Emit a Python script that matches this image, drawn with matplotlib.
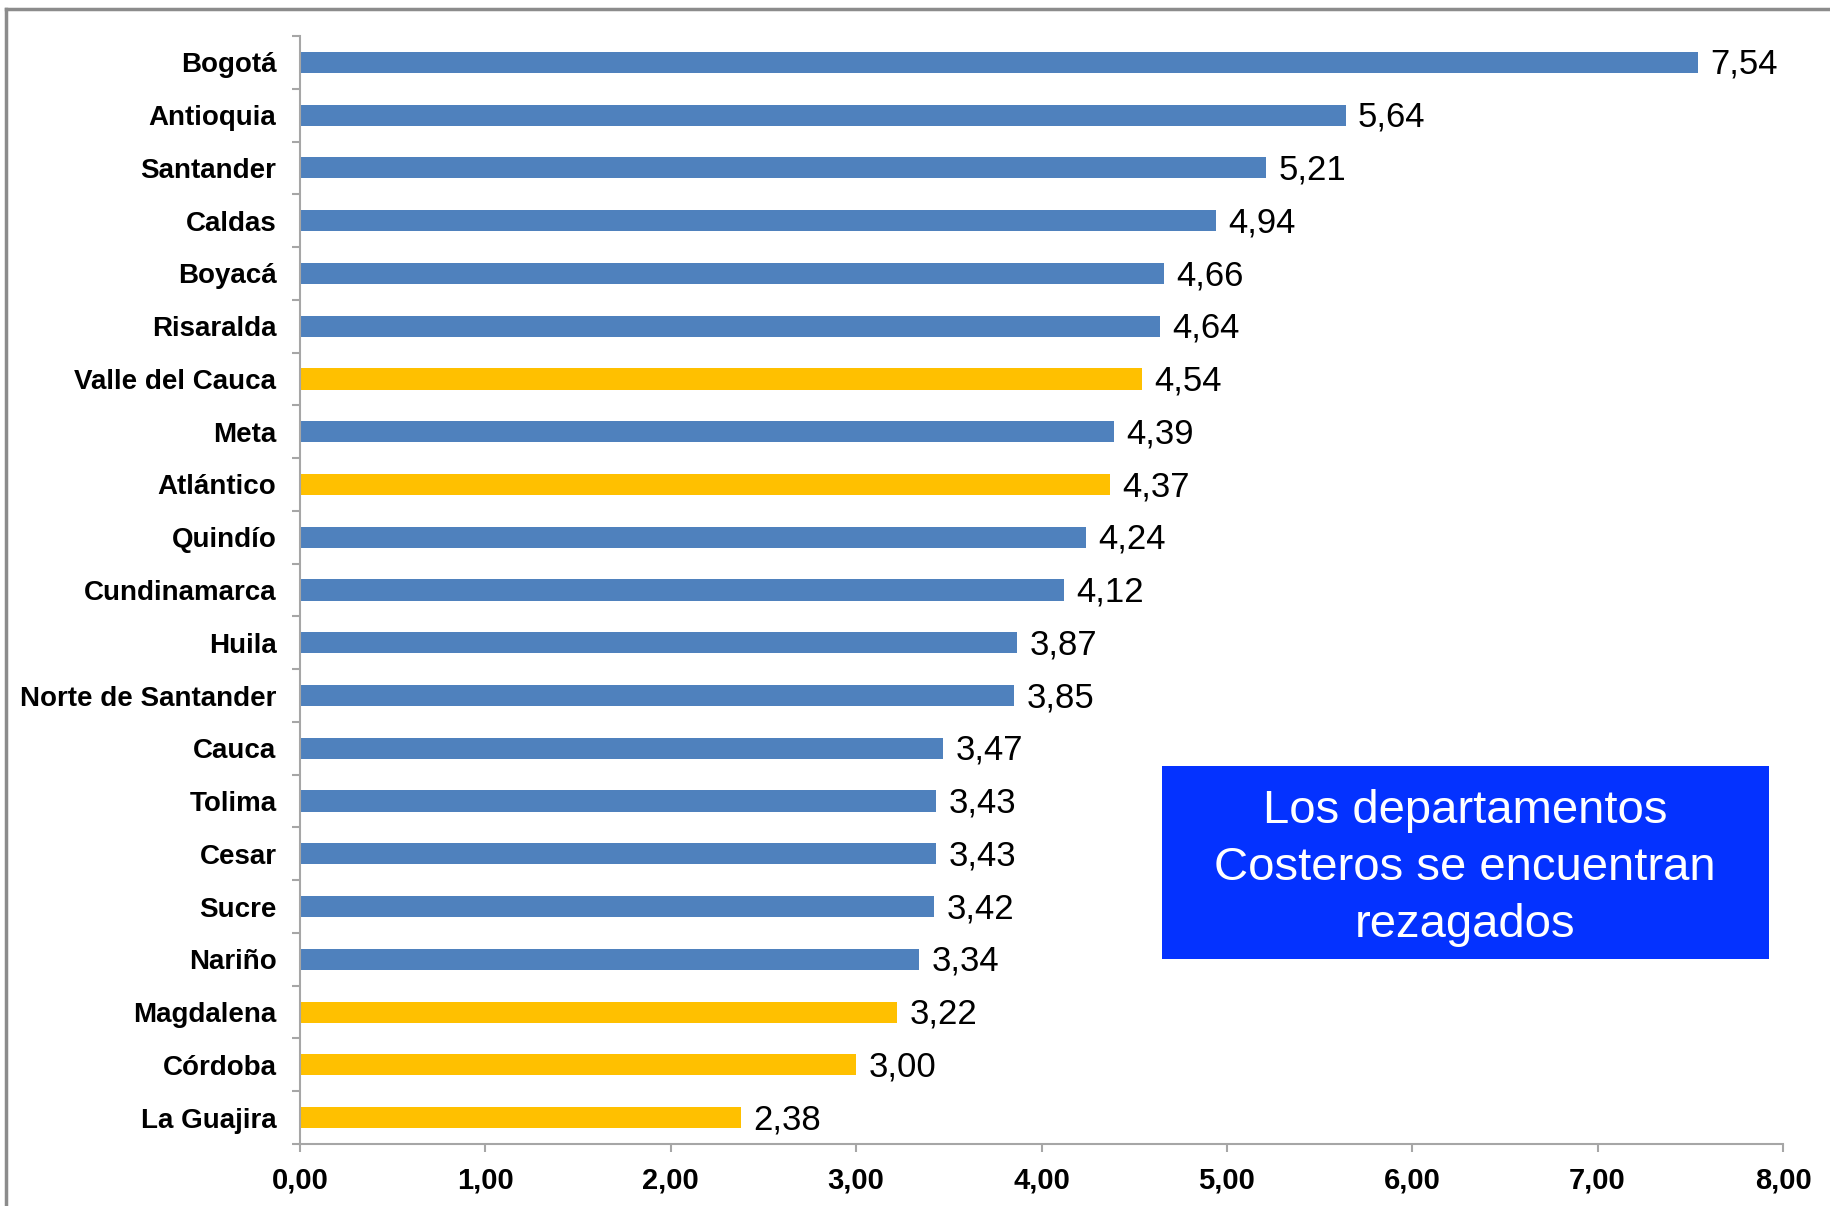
import numpy as np
import matplotlib
matplotlib.use("Agg")
import matplotlib.pyplot as plt
from matplotlib.lines import Line2D

plt.rcParams['font.family'] = ['Liberation Sans', 'DejaVu Sans']

# datos por departamento (de arriba hacia abajo)
departamentos = ["Bogotá", "Antioquia", "Santander", "Caldas", "Boyacá", "Risaralda",
                 "Valle del Cauca", "Meta", "Atlántico", "Quindío", "Cundinamarca",
                 "Huila", "Norte de Santander", "Cauca", "Tolima", "Cesar", "Sucre",
                 "Nariño", "Magdalena", "Córdoba", "La Guajira"]
valores = [7.54, 5.64, 5.21, 4.94, 4.66, 4.64, 4.54, 4.39, 4.37, 4.24, 4.12,
           3.87, 3.85, 3.47, 3.43, 3.43, 3.42, 3.34, 3.22, 3.00, 2.38]
costeros = ["Valle del Cauca", "Atlántico", "Magdalena", "Córdoba", "La Guajira"]
xticks = [0, 1, 2, 3, 4, 5, 6, 7, 8]
nota = "Los departamentos\nCosteros se encuentran\nrezagados"

azul = "#4F81BD"
dorado = "#FFC000"
colores = [dorado if d in costeros else azul for d in departamentos]

W, H = 1830, 1206
fig = plt.figure(figsize=(W / 100, H / 100), dpi=100)
ax = fig.add_axes([300 / W, 1 - 1144 / H, (1783 - 300) / W, (1144 - 36) / H])

n = len(departamentos)
y = np.arange(n)
ax.barh(y, valores, height=0.4, color=colores)
ax.set_ylim(n - 0.5, -0.5)
ax.set_xlim(0, 8)

for yi, v in zip(y, valores):
    ax.annotate(f"{v:.2f}".replace(".", ","), (v, yi), xytext=(9, -1.5),
                textcoords="offset points", va="center", ha="left",
                fontsize=25)

# ejes
for s in ["top", "right"]:
    ax.spines[s].set_visible(False)
for s in ["left", "bottom"]:
    ax.spines[s].set_color("#A6A6A6")
    ax.spines[s].set_linewidth(1.5)

ax.set_yticks(y)
ax.set_yticklabels(departamentos, fontsize=20, fontweight="bold")
ax.set_yticks(np.arange(n + 1) - 0.5, minor=True)
ax.tick_params(axis="y", which="major", length=0, pad=17)
ax.tick_params(axis="y", which="minor", length=6, width=1.5, color="#A6A6A6")

ax.set_xticks(xticks)
ax.set_xticklabels([f"{t:.2f}".replace(".", ",") for t in xticks],
                   fontsize=21, fontweight="bold")
ax.tick_params(axis="x", length=6, width=1.5, color="#A6A6A6", pad=10)

# recuadro azul
fig.text(1465 / W, 1 - 868 / H, nota, ha="center", va="center", color="white",
         fontsize=34, linespacing=1.39, transform=fig.transFigure, zorder=5)
box = plt.Rectangle((1162 / W, 1 - 959 / H), (1769 - 1162) / W, (959 - 766) / H,
                    transform=fig.transFigure, facecolor="#0432FF", edgecolor="none",
                    zorder=4)
fig.patches.append(box)

# marco exterior
fig.add_artist(Line2D([6 / W, 6 / W], [0, 1 - 9 / H], color="#8C8C8C", lw=2.5))
fig.add_artist(Line2D([6 / W, 1], [1 - 9 / H, 1 - 9 / H], color="#8C8C8C", lw=2.5))

fig.savefig("out.png", dpi=100)
